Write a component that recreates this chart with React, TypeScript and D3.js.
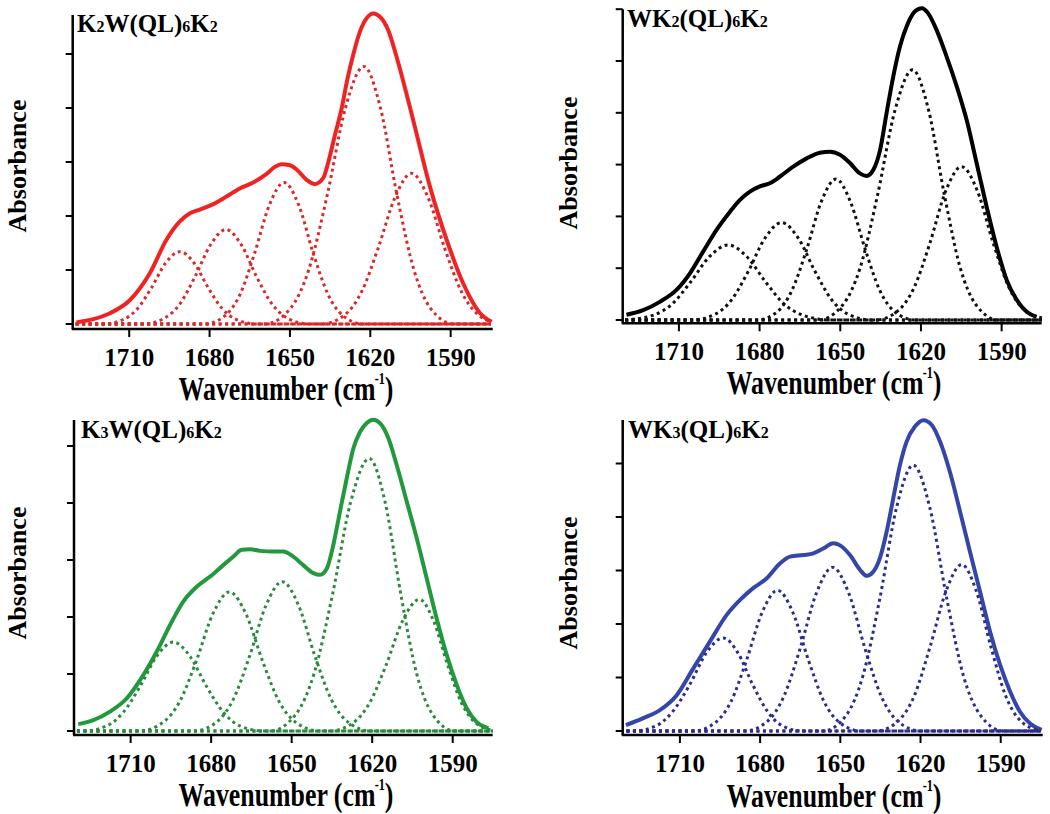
import * as d3 from "d3";

type Pt = [number, number];

// x axis ticks, cm-1
const wavenumberTicks = [1710, 1680, 1650, 1620, 1590];

// ---- K2W(QL)6K2 ----
const k2wTitle: [string, boolean][] = [["K", false], ["2", true], ["W(QL)", false], ["6", true], ["K", false], ["2", true]];
const k2wTotal: Pt[] = [
  [1729.7, 0.03], [1723.4, 0.09], [1717.2, 0.2], [1709.8, 0.44], [1702.3, 0.94], [1696.1, 1.56],
  [1691.1, 1.9], [1687.3, 2.05], [1683.6, 2.12], [1678.6, 2.22], [1673.7, 2.36], [1668.7, 2.51],
  [1663.7, 2.62], [1658.7, 2.78], [1655.6, 2.91], [1653.1, 2.96], [1650, 2.94], [1647.5, 2.86],
  [1643.8, 2.67], [1640.7, 2.59], [1637.6, 2.7], [1635.7, 2.99], [1633.2, 3.5], [1630.7, 3.99],
  [1628.6, 4.52], [1626.3, 5.0], [1623.9, 5.41], [1621.4, 5.66], [1618.9, 5.75], [1616.4, 5.69],
  [1613.3, 5.44], [1610.2, 4.95], [1604, 3.78], [1597.7, 2.54], [1591.5, 1.56], [1585.3, 0.75],
  [1579, 0.2], [1574.7, 0.04],
];
const k2wBands: Pt[][] = [
  [[1730, 0], [1719.7, 0], [1712.3, 0.08], [1707, 0.28], [1701.7, 0.67], [1696.4, 1.13], [1691.1, 1.34], [1685.8, 1.13], [1680.5, 0.67], [1675.2, 0.28], [1669.9, 0.08], [1662.5, 0], [1575, 0]],
  [[1730, 0], [1704.8, 0], [1696.8, 0.11], [1691.1, 0.37], [1685.4, 0.88], [1679.6, 1.47], [1673.9, 1.75], [1668.2, 1.47], [1662.5, 0.88], [1656.7, 0.37], [1651, 0.11], [1643, 0], [1575, 0]],
  [[1730, 0], [1681.8, 0], [1674.1, 0.16], [1668.6, 0.55], [1663.2, 1.31], [1657.7, 2.2], [1652.2, 2.62], [1646.7, 2.2], [1641.3, 1.31], [1635.8, 0.55], [1630.3, 0.16], [1622.6, 0], [1575, 0]],
  [[1730, 0], [1659.4, 0], [1649.8, 0.29], [1643, 1.0], [1636.1, 2.38], [1629.3, 4.0], [1622.4, 4.77], [1616.2, 4.0], [1610, 2.38], [1603.7, 1.0], [1597.5, 0.29], [1588.8, 0], [1575, 0]],
  [[1730, 0], [1638.2, 0], [1629.5, 0.17], [1623.3, 0.59], [1617.1, 1.4], [1610.8, 2.34], [1604.6, 2.79], [1598.4, 2.34], [1592.2, 1.4], [1585.9, 0.59], [1579.7, 0.17], [1575, 0.04]],
];

// ---- WK2(QL)6K2 ----
const wk2Title: [string, boolean][] = [["WK", false], ["2", true], ["(QL)", false], ["6", true], ["K", false], ["2", true]];
const wk2Total: Pt[] = [
  [1729.5, 0.1], [1723.3, 0.19], [1717.1, 0.35], [1710.9, 0.58], [1705.9, 0.9], [1701, 1.32],
  [1696, 1.74], [1691, 2.09], [1687.3, 2.32], [1683.6, 2.48], [1679.9, 2.58], [1676.2, 2.64],
  [1672.4, 2.77], [1667.5, 2.96], [1662.5, 3.12], [1657.6, 3.23], [1653.8, 3.25], [1650.1, 3.19],
  [1646.4, 3.03], [1642.7, 2.83], [1640.2, 2.78], [1637.7, 2.9], [1635.2, 3.28], [1632.8, 3.99],
  [1630.3, 4.7], [1627.8, 5.28], [1625.3, 5.67], [1622.2, 5.96], [1619.7, 6.02], [1617.3, 5.92],
  [1614.2, 5.6], [1610.5, 5.09], [1606.7, 4.51], [1603, 3.86], [1599.3, 3.03], [1595.6, 2.19],
  [1591.9, 1.42], [1588.1, 0.77], [1584.4, 0.39], [1580.7, 0.16], [1577, 0.06],
];
const wk2Bands: Pt[][] = [
  [[1730, 0], [1719.7, 0.09], [1712.7, 0.3], [1705.7, 0.73], [1698.7, 1.22], [1691.7, 1.45], [1684.7, 1.22], [1677.7, 0.73], [1670.7, 0.3], [1663.7, 0.09], [1653.9, 0], [1575, 0]],
  [[1730, 0], [1705.3, 0], [1696.6, 0.11], [1690.4, 0.39], [1684.2, 0.94], [1678, 1.58], [1671.8, 1.88], [1665.6, 1.58], [1659.4, 0.94], [1653.2, 0.39], [1647, 0.11], [1638.3, 0], [1575, 0]],
  [[1730, 0], [1681, 0], [1673.4, 0.16], [1668, 0.57], [1662.5, 1.36], [1657.1, 2.28], [1651.6, 2.72], [1646.2, 2.28], [1640.7, 1.36], [1635.3, 0.57], [1629.8, 0.16], [1622.2, 0], [1575, 0]],
  [[1730, 0], [1658.2, 0], [1649.1, 0.29], [1642.6, 1.01], [1636.1, 2.42], [1629.6, 4.06], [1623.1, 4.83], [1617.2, 4.06], [1611.3, 2.42], [1605.4, 1.01], [1599.5, 0.29], [1591.2, 0], [1575, 0]],
  [[1730, 0], [1636.8, 0], [1628.5, 0.18], [1622.6, 0.62], [1616.7, 1.48], [1610.8, 2.49], [1604.9, 2.96], [1599, 2.49], [1593.1, 1.48], [1587.2, 0.62], [1581.3, 0.18], [1575, 0.04]],
];

// ---- K3W(QL)6K2 ----
const k3wTitle: [string, boolean][] = [["K", false], ["3", true], ["W(QL)", false], ["6", true], ["K", false], ["2", true]];
const k3wTotal: Pt[] = [
  [1729.5, 0.12], [1723.9, 0.19], [1717.7, 0.34], [1711.5, 0.57], [1705.3, 0.98], [1700.3, 1.39],
  [1695.3, 1.86], [1690.4, 2.27], [1685.4, 2.53], [1680.4, 2.71], [1675.5, 2.91], [1671.7, 3.06],
  [1668.6, 3.18], [1665.5, 3.19], [1661.8, 3.16], [1656.8, 3.15], [1653.1, 3.15], [1649.4, 3.06],
  [1645.7, 2.91], [1641.9, 2.77], [1639.4, 2.74], [1636.9, 2.85], [1634.5, 3.26], [1632, 3.85],
  [1629.5, 4.43], [1627, 4.96], [1624.5, 5.25], [1622.1, 5.4], [1619.6, 5.46], [1617.1, 5.4],
  [1614, 5.14], [1610.9, 4.67], [1607.1, 4.02], [1603.4, 3.38], [1599.7, 2.68], [1596, 1.98],
  [1592.2, 1.33], [1588.5, 0.81], [1584.8, 0.4], [1581.1, 0.16], [1576.7, 0.05],
];
const k3wBands: Pt[][] = [
  [[1730, 0], [1727.6, 0], [1718.9, 0.09], [1712.7, 0.33], [1706.5, 0.78], [1700.3, 1.31], [1694.1, 1.56], [1687.9, 1.31], [1681.7, 0.78], [1675.5, 0.33], [1669.3, 0.09], [1660.6, 0], [1575, 0]],
  [[1730, 0], [1706.7, 0], [1698, 0.15], [1691.8, 0.51], [1685.6, 1.22], [1679.4, 2.05], [1673.2, 2.44], [1667, 2.05], [1660.8, 1.22], [1654.6, 0.51], [1648.4, 0.15], [1639.7, 0], [1575, 0]],
  [[1730, 0], [1686.4, 0], [1677.9, 0.16], [1671.8, 0.55], [1665.7, 1.31], [1659.6, 2.2], [1653.5, 2.62], [1647.4, 2.2], [1641.3, 1.31], [1635.2, 0.55], [1629.1, 0.16], [1620.6, 0], [1575, 0]],
  [[1730, 0], [1658.1, 0], [1648.5, 0.29], [1641.7, 1.0], [1634.8, 2.39], [1628, 4.02], [1621.1, 4.78], [1615.2, 4.02], [1609.3, 2.39], [1603.4, 1.0], [1597.5, 0.29], [1589.2, 0], [1575, 0]],
  [[1730, 0], [1635.9, 0], [1627.2, 0.14], [1621, 0.49], [1614.8, 1.16], [1608.6, 1.94], [1602.4, 2.31], [1597.2, 1.94], [1591.9, 1.16], [1586.7, 0.49], [1581.4, 0.14], [1575, 0.01]],
];

// ---- WK3(QL)6K2 ----
const wk3Title: [string, boolean][] = [["WK", false], ["3", true], ["(QL)", false], ["6", true], ["K", false], ["2", true]];
const wk3Total: Pt[] = [
  [1730.2, 0.11], [1723.7, 0.24], [1717.5, 0.39], [1711.2, 0.67], [1705, 1.17], [1698.8, 1.67],
  [1692.5, 2.17], [1687.5, 2.45], [1682.6, 2.67], [1677.6, 2.85], [1672.6, 3.13], [1668.8, 3.26],
  [1663.8, 3.29], [1660.1, 3.32], [1656.4, 3.41], [1652.6, 3.51], [1650.1, 3.47], [1646.4, 3.29],
  [1642.6, 3.01], [1640.1, 2.9], [1637.6, 2.98], [1635.2, 3.23], [1632.7, 3.72], [1630.2, 4.35],
  [1627.7, 4.97], [1625.2, 5.41], [1622.1, 5.69], [1618.9, 5.81], [1615.8, 5.72], [1612.7, 5.41],
  [1609, 4.84], [1605.2, 4.1], [1601.5, 3.35], [1597.7, 2.6], [1594, 1.86], [1590.2, 1.23],
  [1586.5, 0.74], [1582.8, 0.36], [1579, 0.14], [1574.7, 0.02],
];
const wk3Bands: Pt[][] = [
  [[1730, 0], [1727.6, 0], [1718.8, 0.1], [1712.6, 0.37], [1706.3, 0.87], [1700.1, 1.46], [1693.8, 1.74], [1688.3, 1.46], [1682.8, 0.87], [1677.3, 0.37], [1671.8, 0.1], [1664.1, 0], [1575, 0]],
  [[1730, 0], [1704.8, 0], [1696.7, 0.16], [1690.9, 0.55], [1685.1, 1.32], [1679.3, 2.21], [1673.5, 2.63], [1667.7, 2.21], [1661.9, 1.32], [1656.1, 0.55], [1650.3, 0.16], [1642.2, 0], [1575, 0]],
  [[1730, 0], [1685.8, 0], [1677.3, 0.18], [1671.2, 0.64], [1665.1, 1.53], [1659, 2.57], [1652.9, 3.06], [1646.8, 2.57], [1640.7, 1.53], [1634.6, 0.64], [1628.5, 0.18], [1620, 0], [1575, 0]],
  [[1730, 0], [1656.5, 0], [1647.7, 0.3], [1641.5, 1.04], [1635.2, 2.48], [1629, 4.17], [1622.7, 4.97], [1616.5, 4.17], [1610.2, 2.48], [1604, 1.04], [1597.7, 0.3], [1589, 0], [1575, 0]],
  [[1730, 0], [1636.6, 0], [1628.3, 0.19], [1622.4, 0.65], [1616.5, 1.56], [1610.5, 2.61], [1604.6, 3.11], [1599.1, 2.61], [1593.6, 1.56], [1588.1, 0.65], [1582.6, 0.19], [1575, 0]],
];

// panel geometry + colours
const panels = [
  {
    title: k2wTitle, total: k2wTotal, bands: k2wBands,
    line: "#ee2424", dots: "#d82a2a",
    left: 72.7, right: 492.7, top: 15, axisY: 329, y0: 324, unit: 54,
    xDomain: [1731.1, 1574.3], yTicks: [0, 1, 2, 3, 4, 5],
    titleX: 77, titleY: 32, absX: 26, absY: 166, wnX: 286, wnY: 400,
  },
  {
    title: wk2Title, total: wk2Total, bands: wk2Bands,
    line: "#000000", dots: "#111111",
    left: 622.7, right: 1041.7, top: 9.3, axisY: 323.3, y0: 320, unit: 51.8,
    xDomain: [1730.9, 1575.1], yTicks: [0, 1, 2, 3, 4, 5, 6],
    titleX: 627, titleY: 27, absX: 577, absY: 163, wnX: 834, wnY: 394,
  },
  {
    title: k3wTitle, total: k3wTotal, bands: k3wBands,
    line: "#22993c", dots: "#2a8a3e",
    left: 74, right: 492.7, top: 420, axisY: 735, y0: 731, unit: 57,
    xDomain: [1731.1, 1575.1], yTicks: [0, 1, 2, 3, 4, 5],
    titleX: 81, titleY: 438, absX: 26, absY: 573, wnX: 286, wnY: 806,
  },
  {
    title: wk3Title, total: wk3Total, bands: wk3Bands,
    line: "#3446a8", dots: "#2c2c8e",
    left: 622.7, right: 1042.7, top: 420, axisY: 735, y0: 731, unit: 53.5,
    xDomain: [1731.4, 1574.3], yTicks: [0, 1, 2, 3, 4, 5],
    titleX: 628, titleY: 438, absX: 577, absY: 583, wnX: 834, wnY: 807,
  },
];

const font = "'Liberation Serif', 'Times New Roman', serif";

function Panel({ p }: { p: (typeof panels)[number] }) {
  const x = d3.scaleLinear().domain(p.xDomain).range([p.left, p.right]);
  const y = d3.scaleLinear().domain([0, 1]).range([p.y0, p.y0 - p.unit]);

  const line = d3
    .line<Pt>()
    .x((d) => x(d[0]))
    .y((d) => y(d[1]))
    .curve(d3.curveMonotoneX);

  return (
    <g>
      {/* axes */}
      <line x1={p.left} x2={p.left} y1={p.top} y2={p.axisY} stroke="#000" strokeWidth={2.5} />
      <line x1={p.left - 1} x2={p.right} y1={p.axisY} y2={p.axisY} stroke="#000" strokeWidth={2.5} />
      {p.yTicks.map((t) => (
        <line key={t} x1={p.left - 7} x2={p.left} y1={y(t)} y2={y(t)} stroke="#000" strokeWidth={2} />
      ))}
      {wavenumberTicks.map((t) => (
        <g key={t}>
          <line x1={x(t)} x2={x(t)} y1={p.axisY} y2={p.axisY + 8} stroke="#000" strokeWidth={2} />
          <text x={x(t)} y={p.axisY + 37} textAnchor="middle" fontSize={25} fontWeight="bold" fontFamily={font}>
            {t}
          </text>
        </g>
      ))}

      {/* total spectrum */}
      <path d={line(p.total)!} fill="none" stroke={p.line} strokeWidth={4} strokeLinejoin="round" />
      {/* fitted component bands */}
      {p.bands.map((b, i) => (
        <path key={i} d={line(b)!} fill="none" stroke={p.dots} strokeWidth={3} strokeDasharray="3 3.5" />
      ))}

      {/* labels */}
      <text x={p.titleX} y={p.titleY} fontSize={25} fontWeight="bold" fontFamily={font}>
        {p.title.map(([s, sub], i) => (
          <tspan key={i} fontSize={sub ? 16 : 25}>{s}</tspan>
        ))}
      </text>
      <text
        transform={`translate(${p.absX},${p.absY}) rotate(-90)`}
        textAnchor="middle"
        fontSize={26}
        fontWeight="bold"
        fontFamily={font}
      >
        Absorbance
      </text>
      <g transform={`translate(${p.wnX},${p.wnY}) scale(0.76,1)`}>
        <text textAnchor="middle" fontSize={34} fontWeight="bold" fontFamily={font}>
          Wavenumber (cm
          <tspan fontSize={16} dy={-16} dx={-1}>-1</tspan>
          <tspan dy={16}>)</tspan>
        </text>
      </g>
    </g>
  );
}

export default function App() {
  return (
    <svg
      width={1050}
      height={814}
      style={{ position: "absolute", left: 0, top: 0, background: "#fff" }}
    >
      {panels.map((p, i) => (
        <Panel key={i} p={p} />
      ))}
    </svg>
  );
}
